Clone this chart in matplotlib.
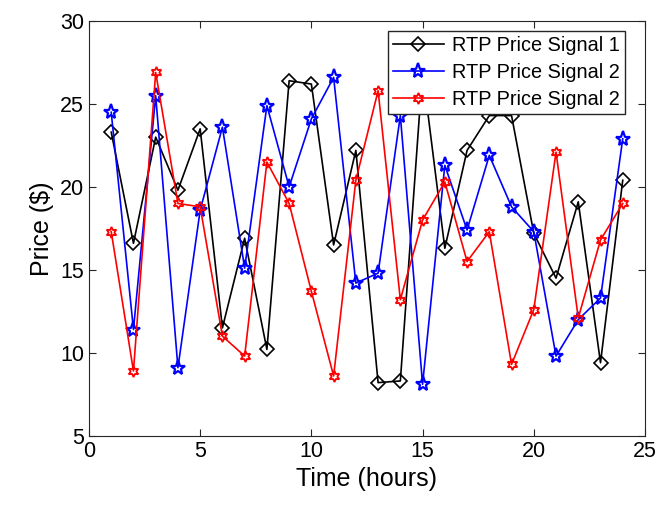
import numpy as np
import matplotlib
matplotlib.use('Agg')
import matplotlib.pyplot as plt

plt.rcParams['font.family'] = ['Liberation Sans', 'DejaVu Sans']

# hours
hours = np.arange(1, 25)

# price signals ($)
signal1 = [23.3, 16.6, 23.0, 19.8, 23.5, 11.5, 16.9, 10.2, 26.4, 26.2, 16.5, 22.2,
           8.2, 8.3, 27.0, 16.3, 22.2, 24.3, 24.3, 17.2, 14.5, 19.1, 9.4, 20.4]
signal2 = [24.5, 11.4, 25.5, 9.1, 18.6, 23.6, 15.1, 24.9, 20.0, 24.1, 26.6, 14.2,
           14.8, 24.3, 8.1, 21.3, 17.4, 21.9, 18.8, 17.3, 9.8, 12.0, 13.3, 22.9]
signal3 = [17.3, 8.9, 26.9, 19.0, 18.8, 11.0, 9.8, 21.5, 19.0, 13.7, 8.6, 20.4,
           25.8, 13.2, 18.0, 20.3, 15.5, 17.3, 9.3, 12.6, 22.1, 12.1, 16.8, 19.0]

labels = ['RTP Price Signal 1', 'RTP Price Signal 2', 'RTP Price Signal 2']

fig = plt.figure(figsize=(6.62, 5.19), dpi=100)
ax = fig.add_axes([0.1344, 0.1605, 0.8399, 0.799])

ax.plot(hours, signal1, 'k-', marker='D', mfc='none', ms=7, lw=1.2, mew=1.2, label=labels[0])
ax.plot(hours, signal2, 'b-', marker='*', mfc='none', ms=11, lw=1.2, mew=1.6, label=labels[1])
ax.plot(hours, signal3, 'r-', marker=(6, 1, 0), mfc='none', ms=8, lw=1.2, mew=1.3, label=labels[2])

ax.set_xlim(0, 25)
ax.set_ylim(5, 30)
ax.set_xticks([0, 5, 10, 15, 20, 25])
ax.set_yticks([5, 10, 15, 20, 25, 30])
ax.tick_params(direction='in', top=True, right=True, labelsize=15.5, length=5, color='#262626')
for s in ax.spines.values():
    s.set_color('#262626')
ax.set_xlabel('Time (hours)', fontsize=18)
ax.set_ylabel('Price ($)', fontsize=18)

leg = ax.legend(loc='upper right', bbox_to_anchor=(0.964, 0.976), fontsize=14.3,
                fancybox=False, edgecolor='#262626', framealpha=1,
                handlelength=2.6, borderpad=0.25, labelspacing=0.4, handletextpad=0.4,
                borderaxespad=0.0)
leg.get_frame().set_linewidth(1.0)

fig.savefig('out.png', dpi=100)
